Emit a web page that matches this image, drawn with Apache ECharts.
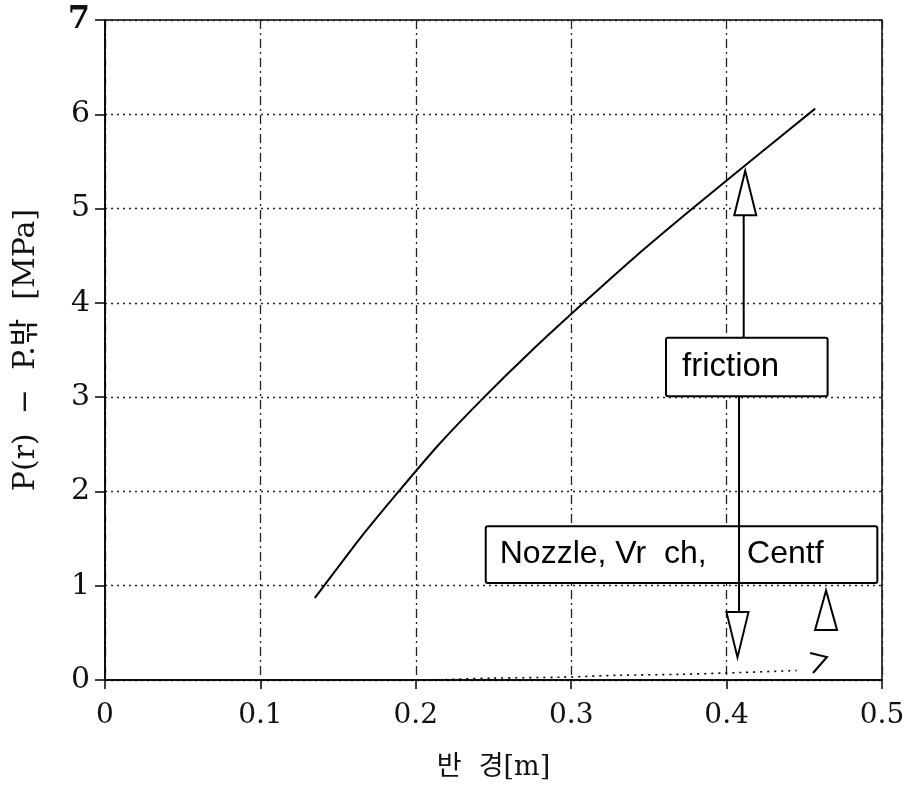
<!DOCTYPE html>
<html>
<head>
<meta charset="utf-8">
<script src="https://cdn.jsdelivr.net/npm/echarts@6/dist/echarts.min.js"></script>
<style>
html,body{margin:0;padding:0;background:#fff;}
#chart{width:909px;height:791px;}
</style>
</head>
<body>
<div id="chart"></div>
<script>
// ---- data ----
const xTicks = [0, 0.1, 0.2, 0.3, 0.4, 0.5];
const yTicks = [0, 1, 2, 3, 4, 5, 6, 7];
const pressureCurve = [
  [0.135, 0.87], [0.141, 1.0], [0.164, 1.5], [0.189, 2.0], [0.215, 2.5],
  [0.244, 3.0], [0.275, 3.5], [0.308, 4.0], [0.342, 4.5], [0.378, 5.0],
  [0.415, 5.5], [0.457, 6.06]
];
const lowerCurve = [
  [0.21, 0.0], [0.25, 0.02], [0.295, 0.03], [0.33, 0.05], [0.37, 0.06],
  [0.41, 0.08], [0.445, 0.1]
];
const xTitle = '반  경[m]';
const yTitle = 'P(r)  −  P.밖  [MPa]';
const frictionLabel = 'friction';
const nozzleLabel = 'Nozzle, Vr  ch,';
const centfLabel = 'Centf';

const chart = echarts.init(document.getElementById('chart'));
const serif = '"DejaVu Serif", "Liberation Serif", serif';
const ink = '#111';

chart.setOption({
  animation: false,
  backgroundColor: '#fff',
  grid: { left: 105, right: 27, top: 20, bottom: 111, containLabel: false, outerBoundsMode: 'none',
    show: true, borderColor: '#000', borderWidth: 1.5, backgroundColor: 'transparent' },
  xAxis: {
    type: 'value', min: 0, max: 0.5, interval: 0.1,
    name: xTitle, nameLocation: 'middle', nameGap: 74,
    nameTextStyle: { fontFamily: serif + ', "Noto Sans CJK KR"', fontSize: 27, color: ink },
    axisLine: { show: true, lineStyle: { color: '#000', width: 1.5 } },
    axisTick: { show: true, length: 9, lineStyle: { color: '#000', width: 1.5 } },
    axisLabel: { fontFamily: serif, fontSize: 28, color: ink, margin: 22,
      formatter: v => xTicks.includes(Math.round(v * 10) / 10) ? String(Math.round(v * 10) / 10) : '' },
    splitLine: { show: true, lineStyle: { color: '#222', width: 1.3, type: [9, 4, 2, 4] } }
  },
  yAxis: {
    type: 'value', min: 0, max: 7, interval: 1,
    name: yTitle, nameLocation: 'middle', nameGap: 64, nameRotate: 90,
    nameTextStyle: { fontFamily: serif + ', "Noto Sans CJK KR"', fontSize: 30, color: ink },
    axisLine: { show: true, lineStyle: { color: '#000', width: 1.5 } },
    axisTick: { show: true, length: 10, lineStyle: { color: '#000', width: 1.5 } },
    axisLabel: { fontFamily: serif, fontSize: 30, color: ink, margin: 15,
      formatter: v => yTicks.includes(v) ? (v === 7 ? '{b|7}' : String(v)) : '',
      rich: { b: { fontFamily: serif, fontSize: 32, fontWeight: 'bold', color: ink } } },
    splitLine: { show: true, lineStyle: { color: '#222', width: 1.3, type: [2, 4] } }
  },
  series: [
    { type: 'line', data: pressureCurve, showSymbol: false, smooth: 0.2,
      lineStyle: { color: '#000', width: 2 }, z: 5 },
    { type: 'line', data: lowerCurve, showSymbol: false, smooth: 0.3,
      lineStyle: { color: '#000', width: 1.6, type: [2, 5] }, z: 5 }
  ]
});

// ---- annotations (placed in data coordinates) ----
function P(x, y) { return chart.convertToPixel({ gridIndex: 0 }, [x, y]); }
function tri(cx, yApex, yBase, half) {
  const a = P(cx, yApex), b = P(cx, yBase);
  return { type: 'polygon', shape: { points: [[a[0], a[1]], [b[0] - half, b[1]], [b[0] + half, b[1]]] },
    style: { fill: '#fff', stroke: '#000', lineWidth: 2 }, z: 20 };
}
function box(x0, y0, x1, y1) {
  const a = P(x0, y1), b = P(x1, y0);
  return { type: 'rect', shape: { x: a[0], y: a[1], width: b[0] - a[0], height: b[1] - a[1], r: 2 },
    style: { fill: '#fff', stroke: '#000', lineWidth: 2 }, z: 15 };
}
function vline(x, y0, y1, w) {
  const a = P(x, y0), b = P(x, y1);
  return { type: 'line', shape: { x1: a[0], y1: a[1], x2: b[0], y2: b[1] }, style: { stroke: '#000', lineWidth: w || 2 }, z: 18 };
}
const sans = '"Liberation Sans", "DejaVu Sans", sans-serif';
const els = [];
// friction box and arrows
els.push(box(0.361, 3.01, 0.465, 3.63));
const fT = P(0.361, 3.32);
els.push({ type: 'text', x: fT[0] + 16, y: fT[1], style: { text: frictionLabel, font: '33px ' + sans, fill: '#000', textVerticalAlign: 'middle' }, z: 21 });
els.push(vline(0.411, 3.63, 4.93));
els.push(tri(0.412, 5.40, 4.93, 11));
// nozzle box
els.push(box(0.245, 1.03, 0.497, 1.63));
const nT = P(0.245, 1.33);
els.push({ type: 'text', x: nT[0] + 14, y: nT[1], style: { text: nozzleLabel, font: '32px ' + sans, fill: '#000', textVerticalAlign: 'middle' }, z: 21 });
const cT = P(0.408, 1.33);
els.push({ type: 'text', x: cT[0] + 8, y: cT[1], style: { text: centfLabel, font: '32px ' + sans, fill: '#000', textVerticalAlign: 'middle' }, z: 21 });
els.push(vline(0.408, 3.01, 0.72));
els.push(tri(0.407, 0.24, 0.72, 11));
els.push(tri(0.464, 0.95, 0.53, 11));
// small "7"-like stroke at end of lower curve
const s1 = P(0.4537, 0.286), s2 = P(0.4646, 0.244), s3 = P(0.4556, 0.074);
els.push({ type: 'polyline', shape: { points: [s1, s2, s3] }, style: { stroke: '#000', lineWidth: 2, fill: null }, z: 18 });
chart.setOption({ graphic: { elements: els } });
</script>
</body>
</html>
